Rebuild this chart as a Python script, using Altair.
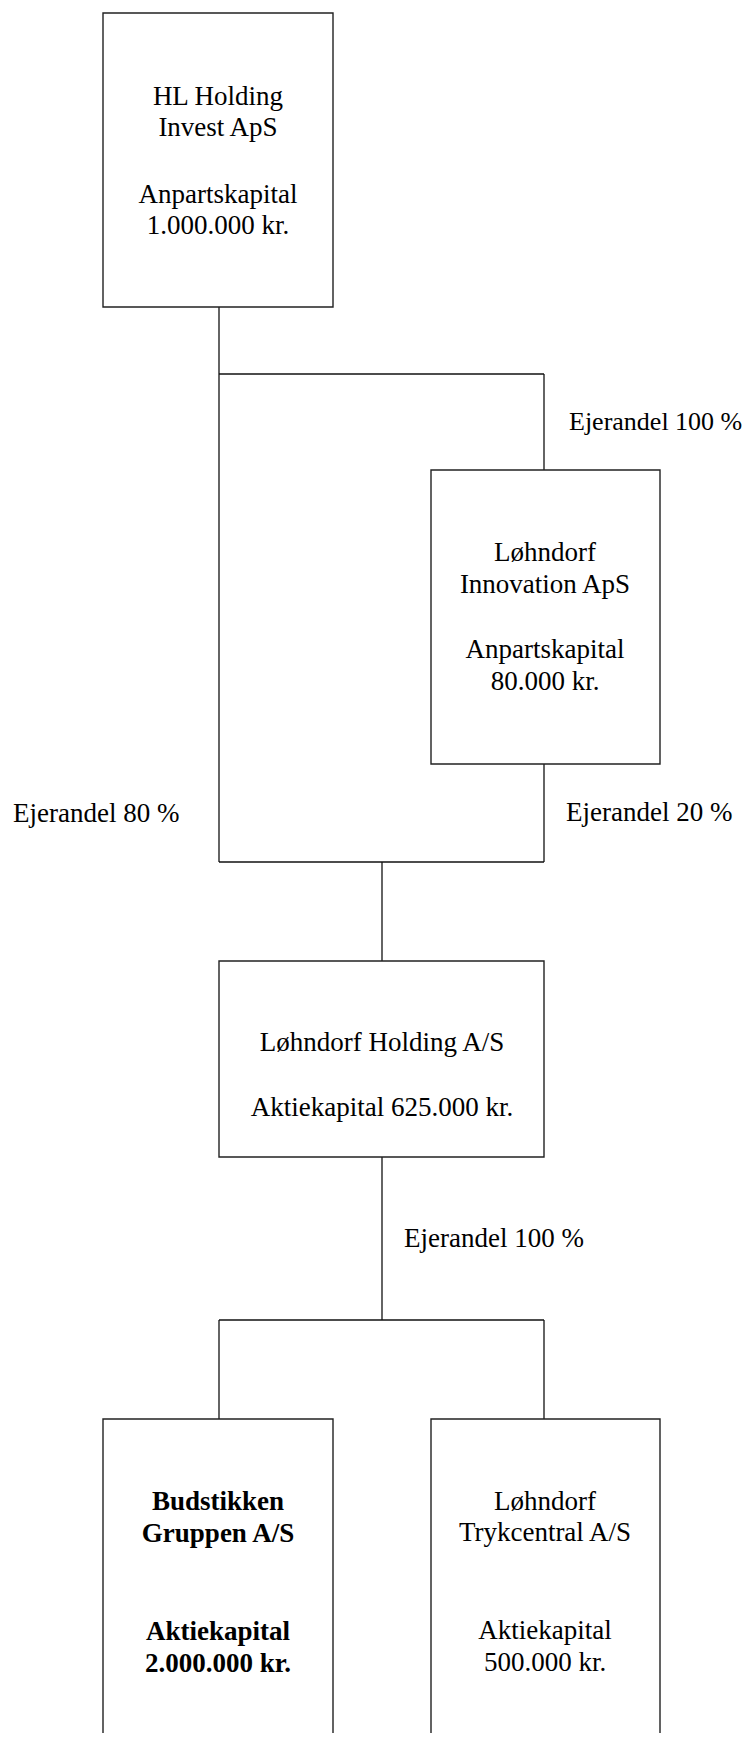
import altair as alt
import pandas as pd

# Boxes (entity name, left, right, top, bottom) in page pixels
box_names = ["HL", "Innovation", "Holding", "Budstikken", "Trykcentral"]
box_x0 = [103, 431, 219, 103, 431]
box_x1 = [333, 660, 544, 333, 660]
box_y0 = [13, 470, 961, 1419, 1419]
box_y1 = [307, 764, 1157, 1800, 1800]

# Connector segments
seg_x0 = [219, 219, 544, 544, 219, 219, 382, 382, 219, 219, 544]
seg_x1 = [219, 544, 544, 544, 219, 544, 382, 382, 544, 219, 544]
seg_y0 = [307, 374, 374, 764, 374, 862, 862, 1157, 1320, 1320, 1320]
seg_y1 = [374, 374, 470, 862, 862, 862, 961, 1320, 1320, 1419, 1419]

# Text inside boxes
txt_lines = [
    "HL Holding", "Invest ApS", "Anpartskapital", "1.000.000 kr.",
    "Løhndorf", "Innovation ApS", "Anpartskapital", "80.000 kr.",
    "Løhndorf Holding A/S", "Aktiekapital 625.000 kr.",
    "Budstikken", "Gruppen A/S", "Aktiekapital", "2.000.000 kr.",
    "Løhndorf", "Trykcentral A/S", "Aktiekapital", "500.000 kr.",
]
txt_x = [218] * 4 + [545] * 4 + [382] * 2 + [218] * 4 + [545] * 4
txt_y = [97, 128, 195, 226, 553, 585, 650, 682, 1043, 1108,
         1502, 1534, 1632, 1664, 1502, 1533, 1631, 1663]
txt_bold = [False] * 10 + [True] * 4 + [False] * 4

# Ownership labels
own_labels = ["Ejerandel 100 %", "Ejerandel 80 %", "Ejerandel 20 %", "Ejerandel 100 %"]
own_x = [569, 13, 566, 404]
own_y = [422, 814, 813, 1239]
own_size = [26, 27, 27, 27]

boxes = pd.DataFrame({"name": box_names, "x0": box_x0, "x1": box_x1, "y0": box_y0, "y1": box_y1})
segs = pd.DataFrame({"x0": seg_x0, "x1": seg_x1, "y0": seg_y0, "y1": seg_y1})
txt = pd.DataFrame({"t": txt_lines, "x": txt_x, "y": txt_y, "bold": txt_bold})
own = pd.DataFrame({"t": own_labels, "x": own_x, "y": own_y, "s": own_size})

xs = alt.Scale(domain=[8, 745], nice=False, zero=False)
ys = alt.Scale(domain=[8, 1733], nice=False, zero=False, reverse=True)
FONT = "Liberation Serif, Times New Roman, Times, serif"
FS = 27

rects = alt.Chart(boxes).mark_rect(fill="white", stroke="#222222", strokeWidth=1.4).encode(
    x=alt.X("x0:Q", scale=xs, axis=None), x2="x1:Q",
    y=alt.Y("y0:Q", scale=ys, axis=None), y2="y1:Q",
)

lines = alt.Chart(segs).mark_rule(color="#111111", strokeWidth=1.3).encode(
    x=alt.X("x0:Q", scale=xs, axis=None), x2="x1:Q",
    y=alt.Y("y0:Q", scale=ys, axis=None), y2="y1:Q",
)

normal = alt.Chart(txt).transform_filter("!datum.bold").mark_text(
    font=FONT, fontSize=FS, color="black", align="center", baseline="middle"
).encode(x=alt.X("x:Q", scale=xs, axis=None), y=alt.Y("y:Q", scale=ys, axis=None), text="t:N")

bold = alt.Chart(txt).transform_filter("datum.bold").mark_text(
    font=FONT, fontSize=FS, fontWeight="bold", color="black", align="center", baseline="middle"
).encode(x=alt.X("x:Q", scale=xs, axis=None), y=alt.Y("y:Q", scale=ys, axis=None), text="t:N")

owners = alt.Chart(own).mark_text(
    font=FONT, color="black", align="left", baseline="middle"
).encode(
    x=alt.X("x:Q", scale=xs, axis=None), y=alt.Y("y:Q", scale=ys, axis=None), text="t:N",
    size=alt.Size("s:Q", scale=None, legend=None),
)

chart = alt.layer(lines, rects, normal, bold, owners).properties(
    width=737, height=1725, padding=0, autosize=alt.AutoSizeParams(type="none"),
    background="white"
).configure_view(stroke=None)

chart.save("out.html", embed_options={"renderer": "svg", "actions": False})
